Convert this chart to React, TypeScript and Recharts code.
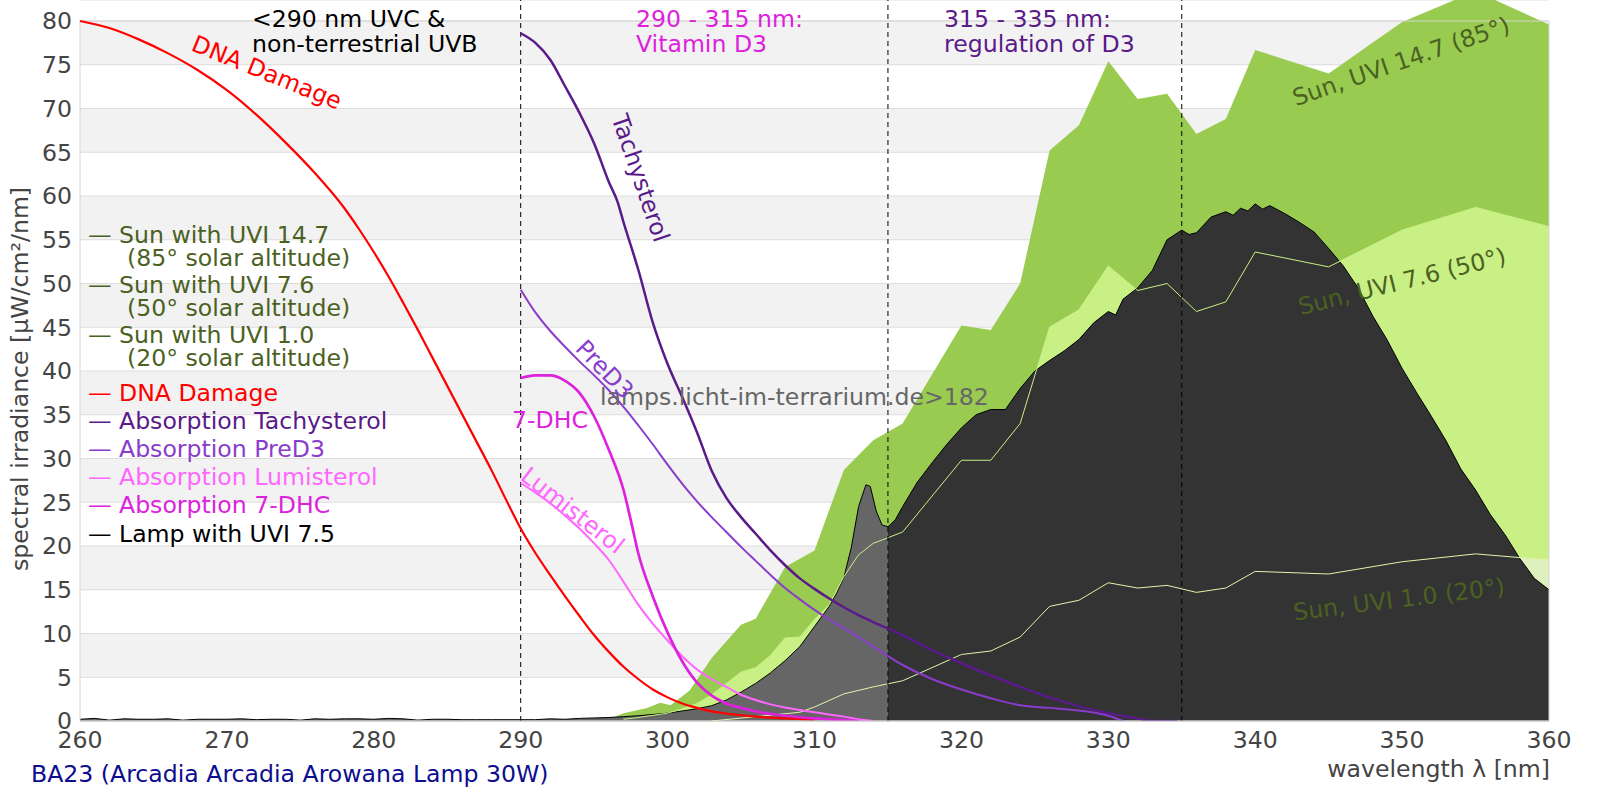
import React from 'react';
import { ComposedChart, Area, Line, XAxis, YAxis, CartesianGrid, ReferenceLine, ReferenceArea } from 'recharts';

const FONT = '"DejaVu Sans", sans-serif';
const FS = 23.6;

const xTicks = [260, 270, 280, 290, 300, 310, 320, 330, 340, 350, 360];
const yTicks = [0, 5, 10, 15, 20, 25, 30, 35, 40, 45, 50, 55, 60, 65, 70, 75, 80];
const bandLimits = [290, 315, 335];

const dnaDamage: [number, number][] = [
  [260, 80], [262, 79.2], [264, 77.9], [266, 76.3], [268, 74.4], [270, 72.1], [272, 69.3], [274, 66.1],
  [276, 62.6], [278, 58.6], [279, 56.2], [280, 53.6], [281, 50.8], [282, 47.8], [283, 44.7], [284, 41.5],
  [285, 38.3], [286, 35.1], [287, 31.9], [288, 28.7], [289, 25.3], [290, 22.0], [291, 19.2], [292, 16.7],
  [293, 14.3], [294, 12.0], [295, 9.8], [296, 7.9], [297, 6.2], [298, 4.8], [299, 3.6], [300, 2.7],
  [301, 2.0], [302, 1.5], [303, 1.1], [304, 0.85], [306, 0.5], [308, 0.3], [310, 0.15],
];

const tachysterol: [number, number][] = [
  [290, 78.6], [291, 77.5], [292, 75.6], [293, 72.6], [294, 69.5], [295, 66.0], [296, 61.6], [296.6, 59.3],
  [297, 57.0], [298, 51.6], [299, 45.5], [300, 40.8], [301, 37.0], [302, 33.0], [303, 28.6], [304, 25.5],
  [305, 23.3], [306, 21.4], [307, 19.5], [308, 17.8], [309, 16.3], [310, 15.1], [311, 14.0], [312, 13.0],
  [313, 12.1], [314, 11.3], [316, 9.8], [318, 8.1], [320, 6.6], [322, 5.2], [324, 3.9], [326, 2.7],
  [328, 1.7], [330, 0.9], [332, 0.3], [333, 0], [334.7, 0],
];

const preD3: [number, number][] = [
  [290, 49.3], [291, 46.7], [292, 44.6], [293, 42.8], [294, 41.1], [295, 39.5], [296, 37.8], [297, 35.9],
  [298, 33.8], [299, 31.6], [300, 29.3], [301, 27.1], [302, 25.1], [303, 23.3], [304, 21.6], [305, 19.9],
  [306, 18.3], [307, 16.7], [308, 15.2], [309, 13.9], [310, 12.7], [311, 11.6], [312, 10.6], [313, 9.6],
  [314, 8.5], [316, 6.4], [318, 4.8], [320, 3.6], [322, 2.6], [324, 1.8], [326, 1.5], [328, 1.2],
  [330, 0.6], [331, 0],
];

const dhc7: [number, number][] = [
  [290, 39.2], [291, 39.5], [292, 39.5], [293, 38.9], [294, 37.5], [295, 34.8], [296, 31.0], [297, 26.4],
  [297.5, 22.9], [298, 19.2], [299, 14.2], [300, 10.1], [301, 6.8], [302, 4.4], [303, 2.9], [304, 2.0],
  [305, 1.5], [306, 1.1], [308, 0.6], [310, 0.3], [312, 0.1], [313, 0],
];

const lumisterol: [number, number][] = [
  [290, 27.2], [291, 26.1], [292, 24.9], [293, 23.5], [294, 22.0], [295, 20.3], [296, 18.4], [297, 15.9],
  [298, 13.3], [299, 11.1], [300, 9.2], [301, 7.4], [302, 5.9], [303, 4.8], [304, 3.9], [305, 3.0],
  [306, 2.4], [307, 1.9], [308, 1.55], [309, 1.25], [310, 1.0], [312, 0.5], [313, 0.2], [314, 0],
];

const lampUvi75: [number, number][] = [
  [260, 0.2], [261, 0.3], [262, 0.1], [263, 0.25], [264, 0.2], [265, 0.2], [266, 0.25], [267, 0.1],
  [268, 0.2], [269, 0.2], [270, 0.2], [271, 0.25], [272, 0.15], [273, 0.2], [274, 0.2], [275, 0.1],
  [276, 0.25], [277, 0.2], [278, 0.25], [279, 0.25], [280, 0.2], [281, 0.3], [282, 0.25], [283, 0.1],
  [284, 0.2], [285, 0.2], [286, 0.15], [287, 0.15], [288, 0.15], [289, 0.15], [290, 0.15], [291, 0.15],
  [292, 0.25], [293, 0.2], [294, 0.3], [295, 0.35], [296, 0.4], [297, 0.5], [298, 0.6], [299, 0.75],
  [300, 0.9], [301, 1.15], [302, 1.4], [303, 1.75], [304, 2.4], [305, 3.3], [306, 4.3], [307, 5.5],
  [308, 6.9], [309, 8.5], [310, 10.8], [311, 13.1], [311.5, 14.6], [312, 16.4], [312.5, 19.8], [313, 24.5],
  [313.5, 27.0], [313.8, 26.8], [314.2, 24.0], [314.6, 22.4], [315, 22.2], [315.5, 23.0], [316, 24.5],
  [317, 27.3], [318, 29.5], [319, 31.6], [320, 33.5], [321, 35.0], [322, 35.6], [323, 35.6], [324, 38.0],
  [325, 40.0], [326, 41.2], [327, 42.3], [328, 43.6], [329, 45.5], [330, 46.8], [330.5, 46.4], [331, 48.2],
  [332, 49.5], [333, 51.5], [334, 55.0], [335, 56.1], [335.5, 55.6], [336, 55.8], [337, 57.6], [338, 58.2],
  [338.5, 57.8], [339, 58.6], [339.5, 58.3], [340, 59.1], [340.5, 58.5], [341, 58.9], [342, 58.0],
  [343, 57.0], [344, 55.9], [345, 54.0], [346, 52.0], [347, 49.5], [348, 46.3], [349, 43.5], [350, 40.3],
  [351, 37.5], [352, 34.8], [353, 32.0], [354, 28.8], [355, 26.4], [356, 23.6], [357, 21.3], [358, 18.6],
  [359, 16.3], [360, 15.0],
];

const sunUvi147: [number, number][] = [
  [295, 0], [296, 0.2], [297, 0.9], [298.6, 1.5], [299.5, 2.1], [300.2, 1.8], [301.5, 3.5], [303, 7.2],
  [305, 11.0], [306, 11.7], [308, 17.6], [310, 19.5], [312, 28.7], [314, 32.1], [316, 34.0], [320, 45.2],
  [322, 44.7], [324, 50.0], [326, 65.2], [328, 68.1], [330, 75.4], [332, 71.1], [334, 71.7], [336, 67.1],
  [338, 68.8], [340, 76.7], [345, 74.0], [350, 79.9], [355, 83.4], [360, 79.6],
];

const sunUvi76: [number, number][] = [
  [297, 0.2], [298, 0.4], [300, 0.9], [301, 1.4], [302, 2.0], [303, 3.0], [304, 4.3], [305, 5.6],
  [306, 6.1], [307, 7.5], [308, 9.5], [309, 9.6], [310, 11.6], [311, 13.3], [312, 16.5], [313, 19.0],
  [314, 20.3], [316, 21.6], [320, 29.8], [322, 29.8], [324, 34.0], [326, 45.0], [328, 47.0], [330, 52.0],
  [332, 49.2], [334, 50.0], [336, 46.8], [338, 47.9], [340, 53.6], [345, 51.9], [350, 56.1], [355, 58.7],
  [360, 56.5],
];

const sunUvi10: [number, number][] = [
  [303, 0], [306, 0.5], [309, 1.0], [310, 1.6], [312, 3.1], [314, 3.9], [316, 4.6], [318, 6.1],
  [320, 7.6], [322, 8.0], [324, 9.6], [326, 13.1], [328, 13.8], [330, 15.8], [332, 15.2], [334, 15.5],
  [336, 14.7], [338, 15.2], [340, 17.1], [345, 16.8], [350, 18.2], [355, 19.1], [360, 18.4],
];

const seriesList: [string, [number, number][]][] = [
  ['dna', dnaDamage], ['tachy', tachysterol], ['pred3', preD3], ['dhc', dhc7], ['lumi', lumisterol],
  ['lamp', lampUvi75], ['sun147', sunUvi147], ['sun76', sunUvi76], ['sun10', sunUvi10],
];

type Row = { x: number; [k: string]: number | undefined };
function buildTable(): Row[] {
  const map = new Map<number, Row>();
  for (const [key, pts] of seriesList) {
    for (const [x, y] of pts) {
      let r = map.get(x);
      if (!r) { r = { x }; map.set(x, r); }
      r[key] = y;
    }
  }
  return Array.from(map.values()).sort((a, b) => a.x - b.x);
}
const table = buildTable();

const C = {
  sunText: '#4b6122',
  dna: '#ff0000',
  tachy: '#5a1a8a',
  pred3: '#8a3ccc',
  lumi: '#ff66ff',
  dhc: '#dd22dd',
  lamp: '#000000',
  green147: '#99cb50',
  green76: '#c8f085',
  green10: '#dfefbd',
  line10: '#e2f4aa',
  axisText: '#444444',
};

const legendRows: { text: string; sub?: string; color: string }[] = [
  { text: 'Sun with UVI 14.7', sub: '(85° solar altitude)', color: C.sunText },
  { text: 'Sun with UVI 7.6', sub: '(50° solar altitude)', color: C.sunText },
  { text: 'Sun with UVI 1.0', sub: '(20° solar altitude)', color: C.sunText },
  { text: 'DNA Damage', color: C.dna },
  { text: 'Absorption Tachysterol', color: C.tachy },
  { text: 'Absorption PreD3', color: C.pred3 },
  { text: 'Absorption Lumisterol', color: C.lumi },
  { text: 'Absorption 7-DHC', color: C.dhc },
  { text: 'Lamp with UVI 7.5', color: C.lamp },
];
const legendBaselines = [243, 293, 343, 401, 429, 457, 485, 513, 542];

function RotLabel({ x, y, a, color, children }: { x: number; y: number; a: number; color: string; children: React.ReactNode }) {
  return (
    <text x={x} y={y} dy="0.36em" textAnchor="middle" fill={color} fontFamily={FONT} fontSize={FS}
      transform={`rotate(${a}, ${x}, ${y})`}>{children}</text>
  );
}

function Overlay() {
  const t = { fontFamily: FONT, fontSize: FS } as const;
  return (
    <svg width={1600} height={800} style={{ position: 'absolute', left: 0, top: 0, pointerEvents: 'none' }}>
      <text {...t} x={28} y={379} textAnchor="middle" fill={C.axisText} transform="rotate(-90, 28, 379)">spectral irradiance [µW/cm²/nm]</text>
      <text {...t} x={1550} y={777} textAnchor="end" fill={C.axisText}>wavelength λ [nm]</text>
      <text {...t} x={31} y={782} fill="#0d0d8f">BA23 (Arcadia Arcadia Arowana Lamp 30W)</text>

      <text {...t} x={252} y={27} fill="#000">{'<290 nm UVC &'}</text>
      <text {...t} x={252} y={52} fill="#000">non-terrestrial UVB</text>
      <text {...t} x={636} y={27} fill={C.dhc}>290 - 315 nm:</text>
      <text {...t} x={636} y={52} fill={C.dhc}>Vitamin D3</text>
      <text {...t} x={944} y={27} fill={C.tachy}>315 - 335 nm:</text>
      <text {...t} x={944} y={52} fill={C.tachy}>regulation of D3</text>

      {legendRows.map((r, i) => (
        <g key={r.text}>
          <text {...t} x={88} y={legendBaselines[i]} fill={r.color}>—</text>
          <text {...t} x={119} y={legendBaselines[i]} fill={r.color}>{r.text}</text>
          {r.sub ? <text {...t} x={127} y={legendBaselines[i] + 23} fill={r.color}>{r.sub}</text> : null}
        </g>
      ))}

      <text {...t} x={600} y={405} fill="#666666">{'lamps.licht-im-terrarium.de>182'}</text>
      <text {...t} x={512} y={428} fill={C.dhc}>7-DHC</text>
      <RotLabel x={267} y={72} a={22} color={C.dna}>DNA Damage</RotLabel>
      <RotLabel x={641} y={178} a={71} color={C.tachy}>Tachysterol</RotLabel>
      <RotLabel x={605} y={369} a={46} color={C.pred3}>PreD3</RotLabel>
      <RotLabel x={573} y={510} a={38} color={C.lumi}>Lumisterol</RotLabel>
      <RotLabel x={1401} y={61} a={-19} color={C.sunText}>Sun, UVI 14.7 (85°)</RotLabel>
      <RotLabel x={1402} y={281} a={-14} color={C.sunText}>Sun, UVI 7.6 (50°)</RotLabel>
      <RotLabel x={1399} y={599} a={-7} color={C.sunText}>Sun, UVI 1.0 (20°)</RotLabel>
    </svg>
  );
}

const lampSplit = (315 - 260) / (360 - 260);

export default function App() {
  const tick = { fill: C.axisText, fontSize: FS, fontFamily: FONT };
  return (
    <div style={{ position: 'absolute', left: 0, top: 0, width: 1600, height: 800, background: '#fff' }}>
      <ComposedChart width={1600} height={800} data={table} margin={{ top: 0, right: 51, bottom: 0, left: 0 }}>
        <defs>
          <linearGradient id="lampFill" x1="0" y1="0" x2="1" y2="0">
            <stop offset={lampSplit} stopColor="#666666" />
            <stop offset={lampSplit} stopColor="#333333" />
          </linearGradient>
        </defs>
        <CartesianGrid vertical={false} stroke="#dddddd" horizontalFill={['#ffffff', '#f2f2f2']} fillOpacity={1} />
        <XAxis dataKey="x" type="number" domain={[260, 360]} ticks={xTicks} interval={0} height={79}
          tickLine={false} tickSize={0} tickMargin={10} axisLine={{ stroke: '#cccccc' }} tick={tick} />
        <YAxis type="number" domain={[0, 82.4]} ticks={yTicks} interval={0} width={80} allowDataOverflow
          axisLine={false} tickLine={false} tickSize={0} tickMargin={8} tick={tick} />

        <Area dataKey="sun147" type="linear" fill={C.green147} fillOpacity={1} stroke="none" connectNulls isAnimationActive={false} dot={false} activeDot={false} />
        <Area dataKey="sun76" type="linear" fill={C.green76} fillOpacity={1} stroke="none" connectNulls isAnimationActive={false} dot={false} activeDot={false} />
        <Area dataKey="sun10" type="linear" fill={C.green10} fillOpacity={1} stroke="none" connectNulls isAnimationActive={false} dot={false} activeDot={false} />
        <Area dataKey="lamp" type="linear" fill="url(#lampFill)" fillOpacity={1} stroke="#000" strokeWidth={1} connectNulls isAnimationActive={false} dot={false} activeDot={false} />
        <Line dataKey="sun76" type="linear" stroke={C.green76} strokeWidth={1} connectNulls isAnimationActive={false} dot={false} activeDot={false} />
        <Line dataKey="sun10" type="linear" stroke={C.line10} strokeWidth={1} connectNulls isAnimationActive={false} dot={false} activeDot={false} />

        {bandLimits.map((b) => (
          <ReferenceLine key={b} x={b} stroke="#000" strokeWidth={1} strokeDasharray="5 4" />
        ))}
        <ReferenceArea x1={260} x2={360} y1={0} y2={80} fill="none" stroke="#d4d4d4" strokeWidth={1} />

        <Line dataKey="dna" type="monotone" stroke={C.dna} strokeWidth={2.2} connectNulls isAnimationActive={false} dot={false} activeDot={false} />
        <Line dataKey="lumi" type="monotone" stroke={C.lumi} strokeWidth={2} connectNulls isAnimationActive={false} dot={false} activeDot={false} />
        <Line dataKey="dhc" type="monotone" stroke={C.dhc} strokeWidth={2.7} connectNulls isAnimationActive={false} dot={false} activeDot={false} />
        <Line dataKey="pred3" type="monotone" stroke={C.pred3} strokeWidth={2} connectNulls isAnimationActive={false} dot={false} activeDot={false} />
        <Line dataKey="tachy" type="monotone" stroke={C.tachy} strokeWidth={2.5} connectNulls isAnimationActive={false} dot={false} activeDot={false} />
      </ComposedChart>
      <Overlay />
    </div>
  );
}
